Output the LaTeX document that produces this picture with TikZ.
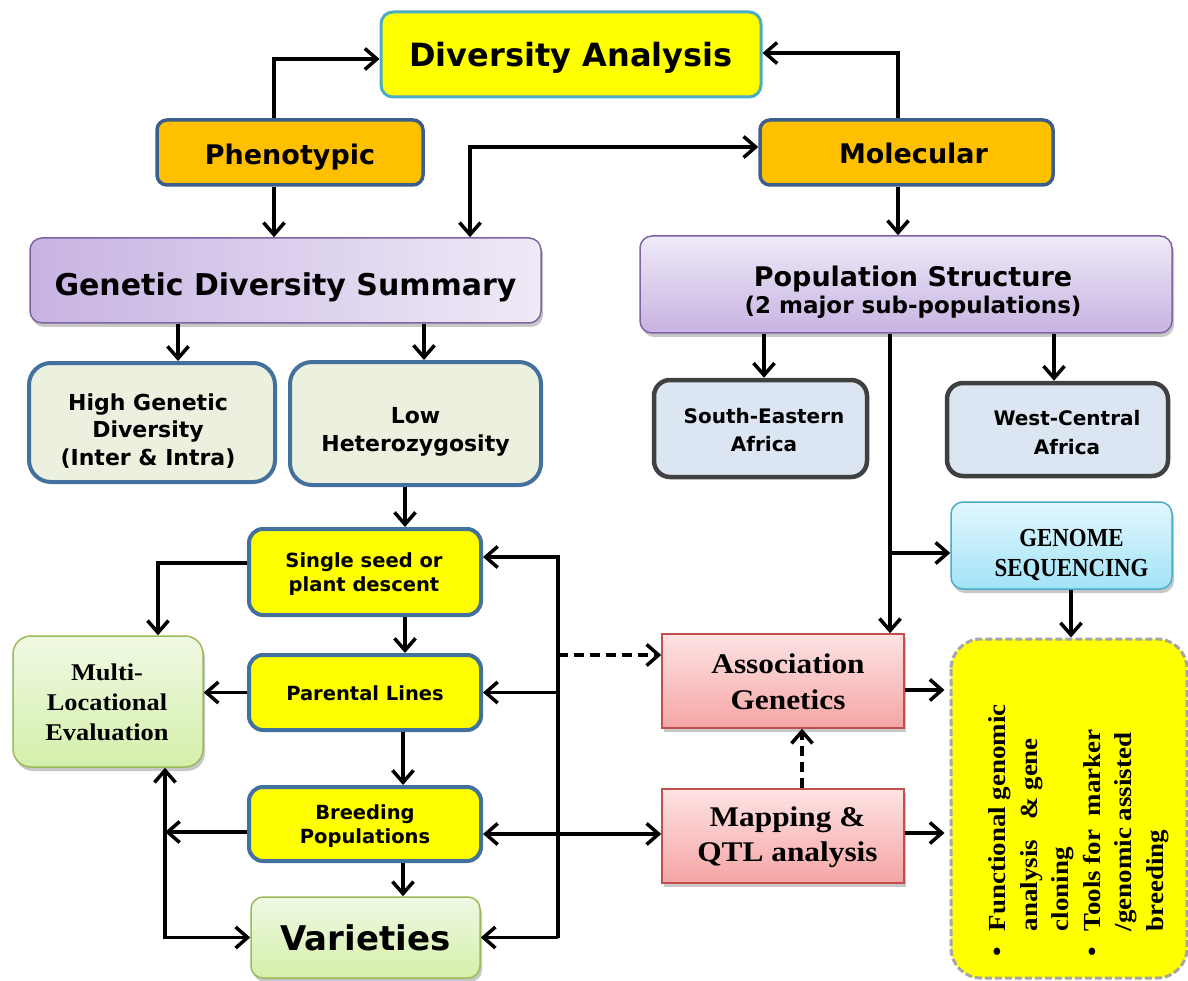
\documentclass[tikz,border=0pt]{standalone}
\usepackage{fontspec}
\setmainfont{DejaVu Sans}
\newfontfamily\cam{Liberation Serif}[FakeStretch=1.1]
\newfontfamily\camn{Liberation Serif}[FakeStretch=0.88]
\usetikzlibrary{arrows.meta,shadows}
\newcommand\fs[2]{\fontsize{#1}{#2}\selectfont}
\newcommand\tb[2]{\hspace*{#1}\begin{tabular}[b]{@{}c@{}}#2\end{tabular}}
\definecolor{daborder}{HTML}{4BACC6}
\definecolor{navyb}{HTML}{3B5E8C}
\definecolor{steelb}{HTML}{41719C}
\definecolor{orangef}{HTML}{FFC000}
\definecolor{purpb}{HTML}{8064A2}
\definecolor{purpL}{HTML}{C7B3E2}
\definecolor{purpR}{HTML}{EFEAF7}
\definecolor{greyg}{HTML}{EBF1DE}
\definecolor{bluegrey}{HTML}{DCE6F2}
\definecolor{darkg}{HTML}{404040}
\definecolor{greenT}{HTML}{F0F9E4}
\definecolor{greenB}{HTML}{D4EFAA}
\definecolor{greenb}{HTML}{9BBB59}
\definecolor{pinkT}{HTML}{FDE3E3}
\definecolor{pinkB}{HTML}{F6A5A5}
\definecolor{redb}{HTML}{C0504D}
\definecolor{cyanT}{HTML}{E2F7FE}
\definecolor{cyanB}{HTML}{A2E3F7}
\definecolor{dashg}{HTML}{A6A6A6}
\definecolor{yel}{HTML}{FFFF00}
\begin{document}
\begin{tikzpicture}[x=1pt,y=-1pt,
  box/.style={draw, rounded corners=#1, inner sep=0pt, align=center, text=black, text depth=0pt},
  box/.default=10pt,
  sh/.style={drop shadow={shadow xshift=2pt, shadow yshift=-4pt, opacity=0.22, fill=black}},
  arr/.style={line width=3.5pt, -{Straight Barb[length=12pt,width=21pt]}},
  arrb/.style={line width=3.5pt, {Straight Barb[length=12pt,width=21pt]}-{Straight Barb[length=12pt,width=21pt]}},
  dsh/.style={dash pattern=on 10pt off 6pt}
]
\fill[white] (0,0) rectangle (1188,981);
\useasboundingbox (0,0) rectangle (1188,981);

% ---------- nodes ----------
\node[box=12pt, draw=daborder, fill=yel, line width=3pt, minimum width=380pt, minimum height=85pt,
      font=\bfseries\fs{32}{38}, text height=24.4pt] (DA) at (571,54.5) {Diversity Analysis};
\node[box=10pt, draw=navyb, fill=orangef, line width=3.5pt, minimum width=266pt, minimum height=65pt,
      font=\bfseries\fs{27}{32}, text height=25pt] (Phen) at (290,152.5) {Phenotypic};
\node[box=10pt, draw=navyb, fill=orangef, line width=3.5pt, minimum width=293pt, minimum height=65pt,
      font=\bfseries\fs{27}{32}, text height=21.6pt] (Mol) at (906.5,152.5) {\hspace*{14pt}Molecular};
\node[box=12pt, sh, draw=purpb, left color=purpL, right color=purpR, line width=1.5pt, minimum width=511pt, minimum height=85pt,
      font=\bfseries\fs{30}{36}, text height=31pt] (GDS) at (285.5,280.5) {Genetic Diversity Summary};
\node[box=12pt, sh, draw=purpb, top color=purpR, bottom color=purpL, line width=1.5pt, minimum width=532pt, minimum height=97pt,
      font=\bfseries\fs{27}{27}, text height=57.6pt] (PS) at (906,284.5)
      {\tb{14pt}{Population Structure\\{\fs{23}{27}(2 major sub-populations)}}};

\node[box=22pt, draw=steelb, fill=greyg, line width=4pt, minimum width=246pt, minimum height=119pt,
      font=\bfseries\fs{22}{27.5}, text height=85pt] (HGD) at (152,422.5) {\tb{-8pt}{High Genetic\\Diversity\\(Inter \& Intra)}};
\node[box=22pt, draw=steelb, fill=greyg, line width=4pt, minimum width=251pt, minimum height=123pt,
      font=\bfseries\fs{22}{28}, text height=55pt] (LH) at (415.5,423.5) {\tb{0pt}{Low\\Heterozygosity}};

\node[box=16pt, draw=darkg, fill=bluegrey, line width=4.5pt, minimum width=213pt, minimum height=97pt,
      font=\bfseries\fs{20}{28}, text height=45pt] (SE) at (760.5,428.5) {\tb{7pt}{South-Eastern\\Africa}};
\node[box=16pt, draw=darkg, fill=bluegrey, line width=4.5pt, minimum width=221pt, minimum height=93pt,
      font=\bfseries\fs{20}{29}, text height=49.6pt] (WC) at (1057.5,429.5) {\tb{19pt}{West-Central\\Africa}};

\node[box=12pt, sh, draw=daborder, top color=cyanT, bottom color=cyanB, line width=1.5pt, minimum width=221pt, minimum height=87pt,
      font=\camn\bfseries\fs{26}{30}, text height=62.4pt] (GEN) at (1061.5,545.5) {\tb{20pt}{GENOME\\SEQUENCING}};

\node[box=14pt, draw=steelb, fill=yel, line width=4pt, minimum width=232pt, minimum height=86pt,
      font=\bfseries\fs{19.5}{24}, text height=39.4pt] (SS) at (365,572) {\tb{-2pt}{Single seed or\\plant descent}};
\node[box=14pt, draw=steelb, fill=yel, line width=4pt, minimum width=232pt, minimum height=75pt,
      font=\bfseries\fs{19.5}{24}, text height=16.4pt] (PL) at (365,692.5) {Parental Lines};
\node[box=14pt, draw=steelb, fill=yel, line width=4pt, minimum width=232pt, minimum height=74pt,
      font=\bfseries\fs{19.5}{23.5}, text height=38.6pt] (BP) at (365,824) {\tb{0pt}{Breeding\\Populations}};
\node[box=12pt, sh, draw=greenb, top color=greenT, bottom color=greenB, line width=1.5pt, minimum width=229pt, minimum height=81pt,
      font=\bfseries\fs{34}{40}, text height=25pt] (V) at (365.5,937.5) {Varieties};
\node[box=18pt, sh, draw=greenb, top color=greenT, bottom color=greenB, line width=1.5pt, minimum width=190pt, minimum height=131pt,
      font=\cam\bfseries\fs{24}{30}, text height=77pt] (MLE) at (108,701.5) {\tb{-2pt}{Multi-\\Locational\\Evaluation}};

\node[box=0pt, sh, draw=redb, top color=pinkT, bottom color=pinkB, line width=1.5pt, minimum width=242pt, minimum height=94pt,
      font=\cam\bfseries\fs{28.5}{36}, text height=56.6pt] (AG) at (783,681) {\tb{10pt}{Association\\Genetics}};
\node[box=0pt, sh, draw=redb, top color=pinkT, bottom color=pinkB, line width=1.5pt, minimum width=242pt, minimum height=94pt,
      font=\cam\bfseries\fs{28.5}{35}, text height=50pt] (MQ) at (783,836) {\tb{9pt}{Mapping \&\\QTL analysis}};

\node[box=30pt, text depth=, draw=dashg, fill=yel, line width=3pt, dash pattern=on 7pt off 3pt, rotate=90,
      minimum width=339pt, minimum height=236pt, font=\cam\bfseries\fs{24.5}{31.5}] (FB) at (1069,808.5)
  {\raisebox{0pt}[\dimexpr\height+18pt\relax][\depth]{\begin{tabular}{@{}l@{\hspace{16pt}}l@{}}
   \textbullet & Functional genomic\\
               & analysis \ \ \& gene\\
               & cloning\\
   \textbullet & Tools for \ marker\\
               & /genomic assisted\\
               & breeding
   \end{tabular}}\hspace*{44pt}};

% ---------- connectors ----------
\draw[arr] (Phen.north -| 274,0) |- (DA.west |- 0,59);
\draw[arr] (Mol.north -| 898,0) |- (DA.east |- 0,53);
\draw[arrb] (Mol.west |- 0,147) -| (GDS.north -| 470,0);
\draw[arr] (Phen.south -| 274,0) -- (GDS.north -| 274,0);
\draw[arr] (Mol.south -| 898,0) -- (PS.north -| 898,0);
\draw[arr] (GDS.south -| 178,0) -- (HGD.north -| 178,0);
\draw[arr] (GDS.south -| 424,0) -- (LH.north -| 424,0);
\draw[arr] (LH.south -| 405,0) -- (SS.north -| 405,0);
\draw[arr] (PS.south -| 764,0) -- (SE.north -| 764,0);
\draw[arr] (PS.south -| 1054,0) -- (WC.north -| 1054,0);
\draw[arr] (PS.south -| 890,0) -- (AG.north -| 890,0);
\coordinate (k1) at (890,553);
\draw[arr] (k1) -- (k1 -| GEN.west);
\draw[arr] (GEN.south -| 1071,0) -- (FB.east -| 1071,0);

\draw[arr] (SS.west |- 0,563) -| (MLE.north -| 158,0);
\draw[arr] (SS.south -| 405,0) -- (PL.north -| 405,0);
\draw[arr] (PL.west) -- (MLE.east |- PL.west);
\draw[arr] (PL.south -| 403,0) -- (BP.north -| 403,0);
\draw[arr] (BP.south -| 403,0) -- (V.north -| 403,0);
\coordinate (q1) at (165,832);
\draw[arr] (BP.west |- q1) -- (q1);
\draw[arrb] (MLE.south -| 165,0) |- (V.west);

\coordinate (s1) at (558,557);
\coordinate (s2) at (558,937.5);
\draw[arr] (s2) -- (s1) -- (SS.east |- s1);
\draw[arr] (s2) -- (V.east);
\draw[arr] (PL.east -| s1) -- (PL.east);
\draw[arrb] (BP.east |- 0,834) -- (MQ.west |- 0,834);
\coordinate (s3) at (558,655);
\draw[arr, dsh] (s3) -- (AG.west |- s3);
\draw[arr, dsh] (MQ.north -| 802,0) -- (AG.south -| 802,0);
\draw[arr] (AG.east |- 0,690) -- ([xshift=-5pt]FB.north |- 0,690);
\draw[arr] (MQ.east |- 0,833) -- ([xshift=-5pt]FB.north |- 0,833);
\end{tikzpicture}
\end{document}
